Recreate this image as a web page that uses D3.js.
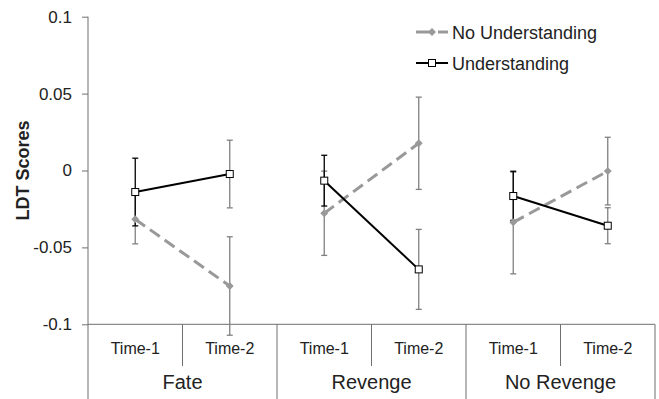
<!DOCTYPE html>
<html>
<head>
<meta charset="utf-8">
<script src="https://cdn.jsdelivr.net/npm/d3@7"></script>
<style>
  body { margin: 0; background: #fff; }
  svg { display: block; font-family: 'Liberation Sans', Arial, sans-serif; }
</style>
</head>
<body>
<script>
(function () {

  // Chart values
  let groups = ['Fate', 'Revenge', 'No Revenge'];
  let times = ['Time-1', 'Time-2'];
  let yTicks = [-0.1, -0.05, 0, 0.05, 0.1];

  let understanding      = [-0.014, -0.0023, -0.0066, -0.0643, -0.0166, -0.0359];
  let understandingErr   = [0.022, 0.022, 0.0165, 0.026, 0.0158, 0.0117];
  let noUnderstanding    = [-0.0317, -0.0751, -0.0278, 0.0177, -0.0337, -0.0004];
  let noUnderstandingErr = [0.016, 0.032, 0.0274, 0.030, 0.0335, 0.022];

  let width = 659, height = 399;
  let left = 88, right = 655, top = 16.7, bottom = 324.3;
  let black = '#000', gray = '#999', errGray = '#808080', axisColor = '#6f6f6f';

  let svg = d3.select('body').append('svg')
      .attr('width', width)
      .attr('height', height);

  // one band per group/time pair
  let cats = [];
  groups.forEach(g => times.forEach(t => cats.push(g + '|' + t)));

  let x = d3.scaleBand().domain(cats).range([left, right]);
  let xGroup = d3.scaleBand().domain(groups).range([left, right]);
  let y = d3.scaleLinear().domain([-0.1, 0.1]).range([bottom, top]);

  function cx(i) { return x(cats[i]) + x.bandwidth() / 2; }

  // y axis
  let yAxis = d3.axisLeft(y)
      .tickValues(yTicks)
      .tickSize(6)
      .tickSizeOuter(0)
      .tickPadding(10)
      .tickFormat(d => d === 0 ? '0' : String(d));

  let ya = svg.append('g')
      .attr('transform', 'translate(' + left + ',0)')
      .call(yAxis);
  ya.select('.domain').remove();
  ya.selectAll('line').attr('stroke', axisColor);
  ya.selectAll('text').attr('font-size', 17).attr('fill', '#222')
      .attr('font-family', "'Liberation Sans', Arial, sans-serif");

  svg.append('line')
      .attr('x1', left).attr('x2', left)
      .attr('y1', y(0.1)).attr('y2', height)
      .attr('stroke', axisColor);

  svg.append('text')
      .attr('transform', 'translate(29,' + y(0) + ') rotate(-90)')
      .attr('text-anchor', 'middle')
      .attr('font-size', 18)
      .attr('font-weight', 'bold')
      .attr('fill', '#222')
      .text('LDT Scores');

  // x axis (two-level category axis)
  svg.append('line')
      .attr('x1', left).attr('x2', right)
      .attr('y1', y(-0.1)).attr('y2', y(-0.1))
      .attr('stroke', axisColor);

  groups.forEach(function (g) {
    let gx = xGroup(g);
    // separator between Time-1 and Time-2
    svg.append('line')
        .attr('x1', x(g + '|Time-2')).attr('x2', x(g + '|Time-2'))
        .attr('y1', y(-0.1)).attr('y2', 366)
        .attr('stroke', axisColor);
    // right edge of the group
    svg.append('line')
        .attr('x1', gx + xGroup.bandwidth()).attr('x2', gx + xGroup.bandwidth())
        .attr('y1', y(-0.1)).attr('y2', height)
        .attr('stroke', axisColor);
    svg.append('text')
        .attr('x', gx + xGroup.bandwidth() / 2)
        .attr('y', 389)
        .attr('text-anchor', 'middle')
        .attr('font-size', 20)
        .attr('fill', '#222')
        .text(g);
  });

  cats.forEach(function (c, i) {
    svg.append('text')
        .attr('x', cx(i))
        .attr('y', 354)
        .attr('text-anchor', 'middle')
        .attr('font-size', 16)
        .attr('fill', '#222')
        .text(c.split('|')[1]);
  });

  // error bars
  function errorBars(values, errs, colorFor) {
    let g = svg.append('g');
    values.forEach(function (v, i) {
      let col = colorFor(i);
      let y0 = y(v + errs[i]), y1 = y(v - errs[i]);
      g.append('line').attr('x1', cx(i)).attr('x2', cx(i)).attr('y1', y0).attr('y2', y1)
          .attr('stroke', col).attr('stroke-width', 1.3);
      [y0, y1].forEach(yy => g.append('line')
          .attr('x1', cx(i) - 3).attr('x2', cx(i) + 3).attr('y1', yy).attr('y2', yy)
          .attr('stroke', col).attr('stroke-width', 1.3));
    });
  }

  errorBars(noUnderstanding, noUnderstandingErr, () => errGray);
  errorBars(understanding, understandingErr, i => i % 2 === 0 ? black : errGray);

  // lines, one segment per group
  function segments(values, color, dash, w) {
    groups.forEach(function (g, gi) {
      let pts = [gi * 2, gi * 2 + 1].map(i => [cx(i), y(values[i])]);
      svg.append('path')
          .attr('d', d3.line()(pts))
          .attr('fill', 'none')
          .attr('stroke', color)
          .attr('stroke-width', w)
          .attr('stroke-dasharray', dash);
    });
  }

  segments(noUnderstanding, gray, '12,6', 3);
  segments(understanding, black, null, 2);

  // markers
  let diamond = d3.symbol().type(d3.symbolDiamond2).size(40);
  noUnderstanding.forEach(function (v, i) {
    svg.append('path')
        .attr('d', diamond())
        .attr('transform', 'translate(' + cx(i) + ',' + y(v) + ')')
        .attr('fill', gray);
  });
  understanding.forEach(function (v, i) {
    svg.append('rect')
        .attr('x', cx(i) - 3.5).attr('y', y(v) - 3.5)
        .attr('width', 7).attr('height', 7)
        .attr('fill', '#fff')
        .attr('stroke', black)
        .attr('stroke-width', 1);
  });

  // legend
  let legend = svg.append('g').attr('class', 'legend');
  let items = [
    { name: 'No Understanding', color: gray, dash: '14,8', w: 3, y: 32, marker: 'diamond' },
    { name: 'Understanding', color: black, dash: null, w: 2, y: 63, marker: 'square' }
  ];
  items.forEach(function (d) {
    legend.append('line')
        .attr('x1', 416).attr('x2', 448)
        .attr('y1', d.y).attr('y2', d.y)
        .attr('stroke', d.color)
        .attr('stroke-width', d.w)
        .attr('stroke-dasharray', d.dash);
    if (d.marker === 'diamond') {
      legend.append('path').attr('d', diamond())
          .attr('transform', 'translate(432,' + d.y + ')')
          .attr('fill', d.color);
    } else {
      legend.append('rect')
          .attr('x', 428.5).attr('y', d.y - 3.5)
          .attr('width', 7).attr('height', 7)
          .attr('fill', '#fff').attr('stroke', black);
    }
    legend.append('text')
        .attr('x', 452).attr('y', d.y + 6.5)
        .attr('font-size', 18)
        .attr('fill', '#222')
        .text(d.name);
  });

})();
</script>
</body>
</html>
